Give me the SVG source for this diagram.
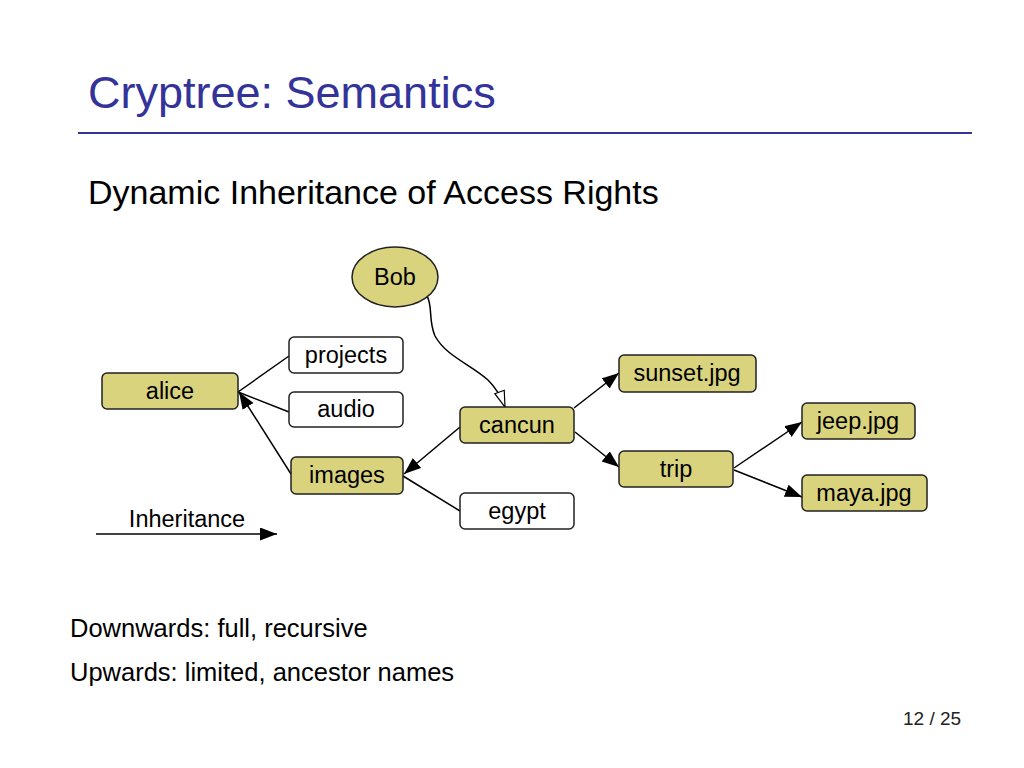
<svg xmlns="http://www.w3.org/2000/svg" width="1024" height="768" viewBox="0 0 1024 768">
<defs>
<style>
text{font-family:"Liberation Sans",Arial,sans-serif;fill:#000}
.title{font-size:45px;fill:#33339a}
.sub{font-size:34px}
.body{font-size:25.5px}
.lbl{font-size:23.5px;text-anchor:middle}
.hl rect,.hl ellipse{fill:#d9d37e;stroke:#222;stroke-width:1.5}
.pl rect{fill:#fff;stroke:#222;stroke-width:1.5}
.edge{fill:none;stroke:#000;stroke-width:1.5}
</style>
<marker id="ah" markerUnits="userSpaceOnUse" markerWidth="18" markerHeight="14" refX="17" refY="6.5" orient="auto">
<path d="M0,0 L17,6.5 L0,13 z" fill="#000"/>
</marker>
<marker id="oh" markerUnits="userSpaceOnUse" markerWidth="18" markerHeight="14" refX="17" refY="6" orient="auto">
<path d="M1,1 L17,6 L1,11 z" fill="#fff" stroke="#000" stroke-width="1.2"/>
</marker>
</defs>
<rect width="1024" height="768" fill="#fff"/>
<text class="title" x="88" y="108">Cryptree: Semantics</text>
<line x1="78" y1="133" x2="972" y2="133" stroke="#33339a" stroke-width="2"/>
<text class="sub" x="88" y="204">Dynamic Inheritance of Access Rights</text>

<g id="connectors">
<line class="edge" x1="238" y1="392" x2="289" y2="356"/>
<line class="edge" x1="238" y1="392" x2="289" y2="412"/>
<line class="edge" x1="291" y1="474" x2="239" y2="392" marker-end="url(#ah)"/>
<line class="edge" x1="460" y1="427" x2="404" y2="474" marker-end="url(#ah)"/>
<line class="edge" x1="403" y1="476" x2="460" y2="511"/>
<line class="edge" x1="574" y1="408" x2="619" y2="373" marker-end="url(#ah)"/>
<line class="edge" x1="575" y1="432" x2="619" y2="467" marker-end="url(#ah)"/>
<line class="edge" x1="734" y1="468" x2="802" y2="422" marker-end="url(#ah)"/>
<line class="edge" x1="734" y1="470" x2="802" y2="497" marker-end="url(#ah)"/>
<path class="edge" d="M427,296 C433,306 428,320 435,336 C446,356 470,364 488,380 C496,388 501,396 505,407" marker-end="url(#oh)"/>
<line class="edge" x1="96" y1="534" x2="277" y2="534" marker-end="url(#ah)"/>
</g>
<text class="lbl" x="187" y="527">Inheritance</text>

<g id="bob" class="hl"><ellipse cx="395" cy="277" rx="43" ry="30"/><text class="lbl" x="395" y="285">Bob</text></g>
<g id="alice" class="hl"><rect x="102" y="373" width="136" height="36" rx="5"/><text class="lbl" x="170" y="399">alice</text></g>
<g id="projects" class="pl"><rect x="289" y="337" width="114" height="36" rx="5"/><text class="lbl" x="346" y="363">projects</text></g>
<g id="audio" class="pl"><rect x="289" y="392" width="114" height="35" rx="5"/><text class="lbl" x="346" y="417">audio</text></g>
<g id="images" class="hl"><rect x="291" y="457" width="112" height="37" rx="5"/><text class="lbl" x="347" y="483">images</text></g>
<g id="cancun" class="hl"><rect x="460" y="407" width="114" height="36" rx="5"/><text class="lbl" x="517" y="433">cancun</text></g>
<g id="egypt" class="pl"><rect x="460" y="493" width="114" height="36" rx="5"/><text class="lbl" x="517" y="519">egypt</text></g>
<g id="sunset" class="hl"><rect x="619" y="355" width="137" height="37" rx="5"/><text class="lbl" x="687" y="381">sunset.jpg</text></g>
<g id="trip" class="hl"><rect x="619" y="451" width="114" height="36" rx="5"/><text class="lbl" x="676" y="477">trip</text></g>
<g id="jeep" class="hl"><rect x="802" y="403" width="113" height="36" rx="5"/><text class="lbl" x="858" y="429">jeep.jpg</text></g>
<g id="maya" class="hl"><rect x="802" y="475" width="125" height="36" rx="5"/><text class="lbl" x="864" y="501">maya.jpg</text></g>

<text class="body" x="70" y="637">Downwards: full, recursive</text>
<text class="body" x="70" y="681">Upwards: limited, ancestor names</text>
<text x="903" y="725" style="font-size:19px;fill:#222">12 / 25</text>
</svg>
